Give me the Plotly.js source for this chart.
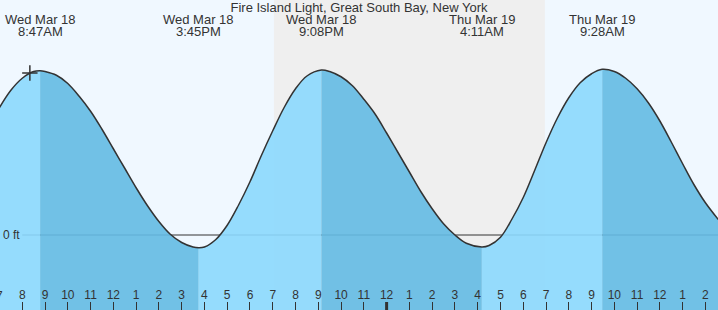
<!DOCTYPE html>
<html><head><meta charset="utf-8">
<script src="https://cdn.plot.ly/plotly-3.0.1.min.js"></script>
<style>html,body{margin:0;padding:0;background:#f0f8ff}</style>
</head><body><div id="chart" style="width:718px;height:310px"></div>
<script>
const stationName = 'Fire Island Light, Great South Bay, New York';

// half-hourly readings of the tide curve (ft)
const readingTimes = [
  '2026-03-18 07:00','2026-03-18 07:30','2026-03-18 08:00','2026-03-18 08:30',
  '2026-03-18 09:00','2026-03-18 09:30','2026-03-18 10:00','2026-03-18 10:30',
  '2026-03-18 11:00','2026-03-18 11:30','2026-03-18 12:00','2026-03-18 12:30',
  '2026-03-18 13:00','2026-03-18 13:30','2026-03-18 14:00','2026-03-18 14:30',
  '2026-03-18 15:00','2026-03-18 15:30','2026-03-18 16:00','2026-03-18 16:30',
  '2026-03-18 17:00','2026-03-18 17:30','2026-03-18 18:00','2026-03-18 18:30',
  '2026-03-18 19:00','2026-03-18 19:30','2026-03-18 20:00','2026-03-18 20:30',
  '2026-03-18 21:30','2026-03-18 22:00','2026-03-18 22:30',
  '2026-03-18 23:00','2026-03-18 23:30','2026-03-19 00:00','2026-03-19 00:30',
  '2026-03-19 01:00','2026-03-19 01:30','2026-03-19 02:00','2026-03-19 02:30',
  '2026-03-19 03:00','2026-03-19 03:30','2026-03-19 04:30',
  '2026-03-19 05:00','2026-03-19 05:30','2026-03-19 06:00','2026-03-19 06:30',
  '2026-03-19 07:00','2026-03-19 07:30','2026-03-19 08:00','2026-03-19 08:30',
  '2026-03-19 09:00','2026-03-19 10:00','2026-03-19 10:30',
  '2026-03-19 11:00','2026-03-19 11:30','2026-03-19 12:00','2026-03-19 12:30',
  '2026-03-19 13:00','2026-03-19 13:30','2026-03-19 14:00','2026-03-19 14:35'
];
const readingHeights = [
  1.70, 1.93, 2.09, 2.18,
  2.18, 2.13, 2.02, 1.85,
  1.65, 1.41, 1.15, 0.89,
  0.63, 0.39, 0.18, 0.01,
  -0.10, -0.16, -0.16, -0.06,
  0.13, 0.40, 0.71, 1.06,
  1.39, 1.70, 1.95, 2.12,
  2.18, 2.11, 1.99,
  1.81, 1.61, 1.36, 1.10,
  0.84, 0.58, 0.35, 0.15,
  0.00, -0.11, -0.14,
  -0.03, 0.21, 0.50, 0.86,
  1.23, 1.56, 1.83, 2.03,
  2.15, 2.18, 2.09,
  1.95, 1.76, 1.52, 1.24,
  0.95, 0.67, 0.43, 0.20
];

// high / low tides
const extremeTimes = ['2026-03-18 08:47','2026-03-18 15:45','2026-03-18 21:08','2026-03-19 04:11','2026-03-19 09:28'];
const extremeHeights = [2.19, -0.17, 2.20, -0.16, 2.21];
const extremeDays = ['Wed Mar 18','Wed Mar 18','Wed Mar 18','Thu Mar 19','Thu Mar 19'];
const extremeClock = ['8:47AM','3:45PM','9:08PM','4:11AM','9:28AM'];

// night (sunset -> sunrise)
const nightStart = ['2026-03-18 19:03'];
const nightEnd = ['2026-03-19 06:57'];

// current time marker
const nowTimes = ['2026-03-18 08:20'];
const nowHeights = [2.16];

// first, partly cut hour label (7 o'clock sits just left of the view)
const edgeTickLabels = ['7'];

const viewStart = '2026-03-18 07:01:20';
const viewEnd = '2026-03-19 14:33:10';
const axisFloor = -1.0;
const axisTop = 3.1333;
const midnightTick = '2026-03-19 00:00';

const FONT = 'Liberation Sans, Arial, sans-serif';
const INK = '#333333';
const RISE_FILL = 'rgba(140,217,253,0.91)';
const FALL_FILL = 'rgba(100,187,227,0.91)';

// merge readings and extremes
const pts = readingTimes.map((t, i) => [t, readingHeights[i]])
  .concat(extremeTimes.map((t, i) => [t, extremeHeights[i]]))
  .sort((a, b) => a[0] < b[0] ? -1 : a[0] > b[0] ? 1 : 0);
const allX = pts.map(p => p[0]);
const allY = pts.map(p => p[1]);

const bounds = [allX[0]].concat(extremeTimes, [allX[allX.length - 1]]);
const traces = [];
for (let i = 0; i < bounds.length - 1; i++) {
  const a = bounds[i], b = bounds[i + 1];
  const seg = pts.filter(p => p[0] >= a && p[0] <= b);
  const sx = seg.map(p => p[0]), sy = seg.map(p => p[1]);
  const rising = sy[sy.length - 1] > sy[0];
  traces.push({x: [a, b], y: [axisFloor, axisFloor], mode: 'lines', line: {width: 0},
    hoverinfo: 'skip', showlegend: false});
  traces.push({x: sx, y: sy, mode: 'lines', line: {width: 0, shape: 'spline'},
    fill: 'tonexty', fillcolor: rising ? RISE_FILL : FALL_FILL, hoverinfo: 'skip', showlegend: false});
}
traces.push({x: allX, y: allY, mode: 'lines', line: {color: INK, width: 1.5, shape: 'spline'},
  hoverinfo: 'skip', showlegend: false});
traces.push({x: nowTimes, y: nowHeights, mode: 'markers',
  marker: {symbol: 'cross-thin', size: 11, line: {color: INK, width: 1.5}, color: INK},
  hoverinfo: 'skip', showlegend: false});

const annotations = [];
extremeTimes.forEach((t, i) => {
  annotations.push({x: t, xref: 'x', y: 1 - 19.7 / 310, yref: 'paper', text: extremeDays[i],
    showarrow: false, xanchor: 'center', yanchor: 'middle', font: {family: FONT, size: 13, color: INK}});
  annotations.push({x: t, xref: 'x', y: 1 - 31.7 / 310, yref: 'paper', text: extremeClock[i],
    showarrow: false, xanchor: 'center', yanchor: 'middle', font: {family: FONT, size: 13, color: INK}});
});
annotations.push({x: -0.0008, xref: 'paper', y: 1 - 295.5 / 310, yref: 'paper', text: edgeTickLabels[0],
  showarrow: false, xanchor: 'center', yanchor: 'middle', font: {family: FONT, size: 12, color: INK}});

const shapes = [
  {type: 'rect', xref: 'x', yref: 'paper', x0: nightStart[0], x1: nightEnd[0], y0: 0, y1: 1,
   fillcolor: '#efefef', line: {width: 0}, layer: 'below'},
  {type: 'line', xref: 'paper', yref: 'y', x0: 0.031, x1: 1, y0: 0, y1: 0,
   line: {color: INK, width: 1}, layer: 'below'},
  {type: 'line', xref: 'x', yref: 'paper', x0: midnightTick, x1: midnightTick, y0: 0, y1: 8 / 310,
   line: {color: INK, width: 3}, layer: 'above'}
];

const layout = {
  width: 718, height: 310,
  margin: {l: 0, r: 0, t: 0, b: 0, pad: 0},
  paper_bgcolor: '#f0f8ff', plot_bgcolor: '#f0f8ff',
  title: {text: stationName, x: 0.5, xanchor: 'center', xref: 'paper',
    y: 1 - 7.5 / 310, yanchor: 'middle', yref: 'container', font: {family: FONT, size: 13, color: INK}},
  showlegend: false,
  xaxis: {type: 'date', range: [viewStart, viewEnd], dtick: 3600000, tick0: '2026-03-18 00:00',
    tickformat: '%-I', ticks: 'inside', ticklen: 8, tickwidth: 1, tickcolor: INK,
    ticklabelposition: 'inside', tickfont: {family: FONT, size: 12, color: INK},
    showgrid: false, zeroline: false, showline: false, automargin: false, fixedrange: true},
  yaxis: {range: [axisFloor, axisTop], tickvals: [0], ticktext: ['0 ft'], ticks: '',
    ticklabelposition: 'inside', tickfont: {family: FONT, size: 12, color: INK},
    showgrid: false, zeroline: false, showline: false, automargin: false, fixedrange: true},
  annotations: annotations,
  shapes: shapes
};

Plotly.newPlot('chart', traces, layout, {displayModeBar: false, staticPlot: true});
</script>
</body></html>
